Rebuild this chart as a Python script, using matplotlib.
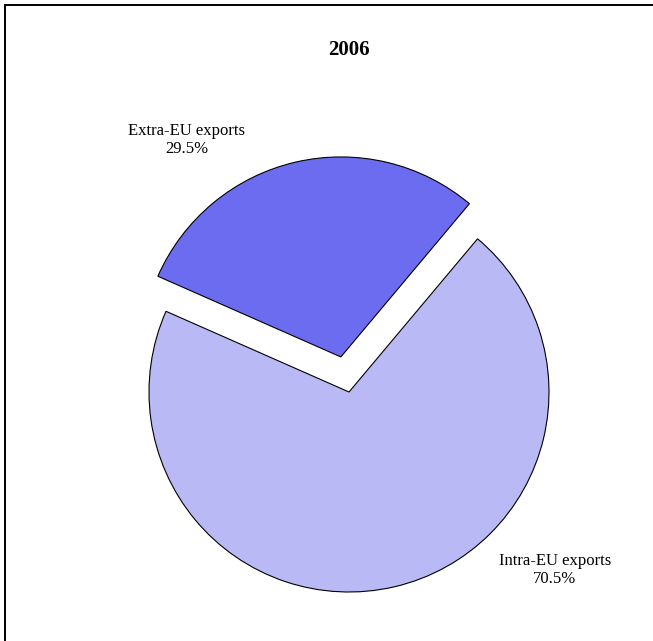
import matplotlib
matplotlib.use("Agg")
import matplotlib.pyplot as plt
from matplotlib.patches import Rectangle

plt.rcParams["font.family"] = ["Liberation Serif", "DejaVu Serif"]

# data
labels = ["Extra-EU exports", "Intra-EU exports"]
shares = [29.5, 70.5]
explode_frac = [0.18, 0.0]  # fraction of radius
colors = ["#6c6cf0", "#b9b9f6"]
title = "2006"

W, H = 653, 641
fig = plt.figure(figsize=(W / 100, H / 100), dpi=100)
ax = fig.add_axes([0, 0, 1, 1])

# pie in pixel coordinates (y up)
cx, cy, r = 349, H - 392, 200
ax.pie(shares, explode=[e * r for e in explode_frac], colors=colors,
       startangle=50, counterclock=True, center=(cx, cy), radius=r,
       frame=True, wedgeprops=dict(edgecolor="black", linewidth=0.8))
ax.set_xlim(0, W)
ax.set_ylim(0, H)
ax.set_aspect("equal")
ax.axis("off")

# labels
label_pos = [(187, H - 140), (555, H - 570)]
for lab, val, (x, y) in zip(labels, shares, label_pos):
    ax.text(x, y, f"{lab}\n{val:.1f}%", ha="center", va="center",
            fontsize=12, linespacing=1.15)

ax.text(cx, H - 50, title, ha="center", va="center",
        fontsize=15, fontweight="bold")

# outer frame (only top and left visible)
ax.add_patch(Rectangle((4.5, -20), W + 20, H - 5 + 20, fill=False,
                       edgecolor="black", linewidth=1.4, clip_on=False))

fig.savefig("out.png", dpi=100)
